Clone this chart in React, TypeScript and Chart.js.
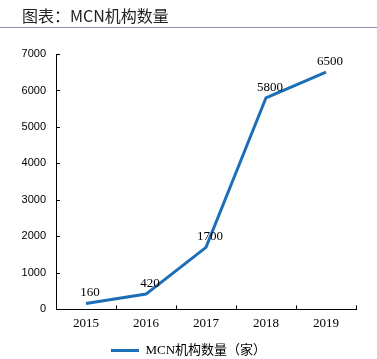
import React, { useEffect, useRef } from "react";
import { Chart, registerables } from "chart.js";

Chart.register(...registerables);

const categories = ["2015", "2016", "2017", "2018", "2019"];
const mcnCounts = [160, 420, 1700, 5800, 6500];
const seriesName = "MCN机构数量（家）";
const titleText = "图表：MCN机构数量";
const yTicks = [0, 1000, 2000, 3000, 4000, 5000, 6000, 7000];

const LINE_COLOR = "#1c6fb7";

const innerTicks = {
  id: "innerTicks",
  afterDraw(chart: any) {
    const ctx = chart.ctx;
    const x = chart.scales.x;
    const y = chart.scales.y;
    ctx.save();
    ctx.strokeStyle = "#000";
    ctx.lineWidth = 1;
    ctx.beginPath();
    y.ticks.forEach((t: any) => {
      const py = Math.round(y.getPixelForValue(t.value)) + 0.5;
      ctx.moveTo(x.left, py);
      ctx.lineTo(x.left + 4, py);
    });
    const n = categories.length;
    for (let i = 0; i <= n; i++) {
      const px = Math.round(x.left + (i * (x.right - x.left)) / n) + 0.5;
      ctx.moveTo(px, y.bottom);
      ctx.lineTo(px, y.bottom - 4);
    }
    ctx.stroke();
    ctx.restore();
  },
};

const centerLegend = {
  id: "centerLegend",
  afterLayout(chart: any) {
    if (chart.legend) {
      chart.legend.left = 0;
      chart.legend.right = chart.width;
      chart.legend.width = chart.width;
    }
  },
};

const dataLabels = {
  id: "dataLabels",
  afterDatasetsDraw(chart: any) {
    const ctx = chart.ctx;
    const meta = chart.getDatasetMeta(0);
    ctx.save();
    ctx.font = "13px 'Liberation Serif', serif";
    ctx.fillStyle = "#000";
    ctx.textAlign = "center";
    ctx.textBaseline = "bottom";
    meta.data.forEach((pt: any, i: number) => {
      ctx.fillText(String(mcnCounts[i]), pt.x + 4, pt.y - 4);
    });
    ctx.restore();
  },
};

export default function App() {
  const ref = useRef<HTMLCanvasElement>(null);
  useEffect(() => {
    if (!ref.current) return;
    const chart = new Chart(ref.current, {
      type: "line",
      data: {
        labels: categories,
        datasets: [
          {
            label: seriesName,
            data: mcnCounts,
            borderColor: LINE_COLOR,
            backgroundColor: LINE_COLOR,
            borderWidth: 3,
            pointRadius: 0,
            tension: 0,
          },
        ],
      },
      options: {
        animation: false,
        responsive: false,
        maintainAspectRatio: false,
        layout: { padding: { top: 54, right: 21, left: 0, bottom: -8 } },
        plugins: {
          legend: {
            position: "bottom",
            labels: {
              boxWidth: 28,
              boxHeight: 3,
              color: "#000",
              font: { size: 13, family: "'Liberation Serif', 'Noto Sans CJK SC', serif" },
              padding: 4,
              generateLabels: () => [
                {
                  text: seriesName,
                  fillStyle: LINE_COLOR,
                  strokeStyle: LINE_COLOR,
                  lineWidth: 0,
                  datasetIndex: 0,
                },
              ],
            },
          },
          tooltip: { enabled: false },
        },
        scales: {
          x: {
            offset: true,
            grid: { display: false, drawTicks: false },
            border: { display: true, color: "#000", width: 1 },
            afterFit: (s: any) => {
              s.height += 3;
            },
            ticks: {
              color: "#000",
              padding: 6,
              font: { size: 13, family: "'Liberation Serif', serif" },
            },
          },
          y: {
            min: 0,
            max: 7000,
            afterBuildTicks: (s: any) => {
              s.ticks = yTicks.map((v) => ({ value: v }));
            },
            afterFit: (s: any) => {
              s.width = 56;
            },
            grid: { display: false, drawTicks: false },
            border: { display: true, color: "#000", width: 1 },
            ticks: {
              color: "#000",
              padding: 10,
              font: { size: 11, family: "'Liberation Sans', sans-serif" },
              callback: (v: any) => String(v),
            },
          },
        },
      },
      plugins: [innerTicks, dataLabels, centerLegend],
    });
    return () => chart.destroy();
  }, []);

  return (
    <div
      style={{
        position: "fixed",
        left: 0,
        top: 0,
        width: 377,
        height: 359,
        background: "#fff",
        overflow: "hidden",
      }}
    >
      <canvas ref={ref} width={377} height={359} style={{ position: "absolute", left: 0, top: 0 }} />
      <div
        style={{
          position: "absolute",
          left: 22,
          top: 4,
          fontFamily: "'Noto Sans CJK SC', 'Noto Sans', sans-serif",
          fontSize: 16,
          color: "#222",
          lineHeight: "22px",
          whiteSpace: "nowrap",
        }}
      >
        {titleText}
      </div>
      <div
        style={{
          position: "absolute",
          left: 0,
          top: 27,
          width: 377,
          height: 1,
          background: "#8a93ad",
        }}
      />
    </div>
  );
}
